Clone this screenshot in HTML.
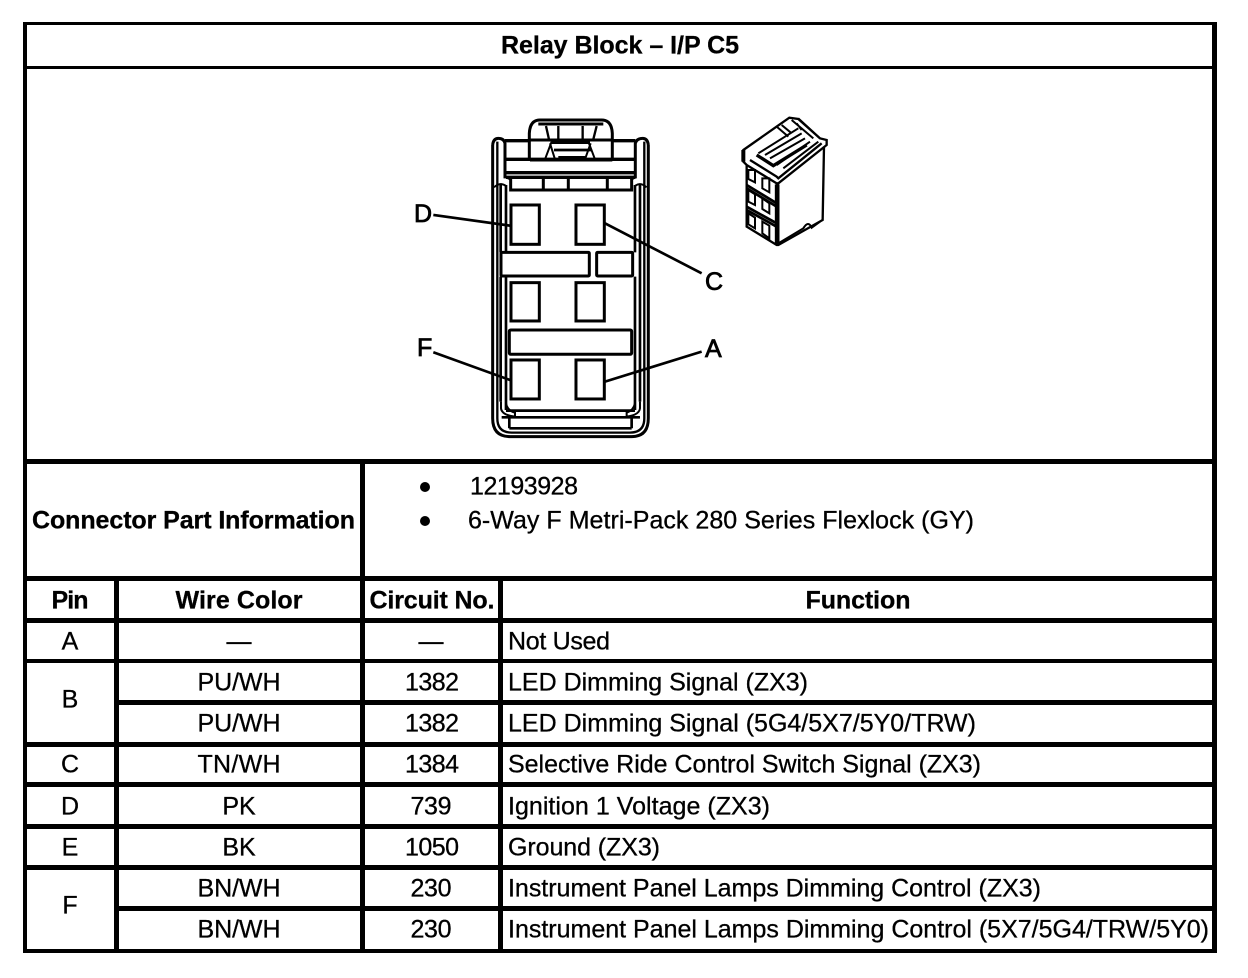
<!DOCTYPE html>
<html><head><meta charset="utf-8"><style>
html,body{margin:0;padding:0;background:#fff}
svg{display:block}
text{font-family:"Liberation Sans",sans-serif;font-size:25px;fill:#000;stroke:#000;stroke-width:.3px}
.b{font-weight:bold}
.m{text-anchor:middle}
</style></head><body>
<svg width="1248" height="978" viewBox="0 0 1248 978" xmlns="http://www.w3.org/2000/svg">
<rect width="1248" height="978" fill="#fff"/>
<g fill="#000" shape-rendering="crispEdges">
<rect x="23" y="22" width="1194" height="3"/>
<rect x="23" y="22" width="4" height="931"/>
<rect x="1212" y="22" width="5" height="931"/>
<rect x="23" y="949" width="1194" height="4"/>
<rect x="23" y="66" width="1194" height="3"/>
<rect x="23" y="459" width="1194" height="5"/>
<rect x="23" y="576" width="1194" height="5"/>
<rect x="23" y="618" width="1194" height="5"/>
<rect x="23" y="659" width="1194" height="4"/>
<rect x="119" y="700" width="1098" height="5"/>
<rect x="23" y="742" width="1194" height="5"/>
<rect x="23" y="782" width="1194" height="5"/>
<rect x="23" y="824" width="1194" height="5"/>
<rect x="23" y="865" width="1194" height="5"/>
<rect x="119" y="906" width="1098" height="5"/>
<rect x="114" y="576" width="5" height="377"/>
<rect x="360" y="459" width="5" height="494"/>
<rect x="498" y="576" width="5" height="377"/>
</g>

<g transform="translate(400,100) scale(0.3333)" fill="none" stroke="#000" stroke-width="9">
<path d="M278,135 Q280,115 295,115 Q312,115 315,130 L315,235"/>
<path d="M745,135 Q743,115 728,115 Q710,115 706,130 L706,235"/>
<path d="M278,135 V955 Q278,1010 330,1010 H695 Q745,1010 745,955 V135"/>
<path d="M292,125 V955 Q292,998 335,998 H690 Q733,998 733,955 V125" stroke-width="7"/>
<path d="M302,250 V457 M302,530 V905 M318,255 V457 M318,530 V930" stroke-width="8"/>
<path d="M720,250 V905 M705,255 V457 M705,530 V930" stroke-width="8"/>
<path d="M282,262 Q300,245 318,258 M740,262 Q722,245 705,258" stroke-width="6"/>
<path d="M315,122 H388 M637,122 H706 M318,178 H706 M318,218 H706 M318,232 H706" stroke-width="10"/>
<path d="M318,232 L335,240 M706,232 L692,240" stroke-width="6"/>
<path d="M332,235 V270 H695 V235 M430,235 V268 M505,235 V268 M622,235 V268"/>
<path d="M388,178 V100 Q390,60 420,60 H605 Q635,60 637,100 V178" />
<path d="M390,120 H637 M415,72 H610 M390,180 H637" stroke-width="9"/>
<path d="M438,78 L447,118 M475,78 V118 M548,78 V118 M590,78 L580,118" stroke-width="7"/>
<path d="M455,128 H570 M462,150 H575 M475,172 H555" stroke-width="8"/>
<path d="M435,178 L455,125 M465,178 L450,130 M585,178 L565,125 M555,178 L572,130" stroke-width="6"/>
<g stroke-width="9" fill="#fff">
<rect x="303" y="457" width="265" height="71" rx="3"/>
<rect x="590" y="457" width="108" height="71" rx="3"/>
<rect x="328" y="690" width="367" height="73" rx="4"/>
<rect x="333" y="315" width="85" height="118"/>
<rect x="528" y="315" width="85" height="118"/>
<rect x="333" y="548" width="85" height="115"/>
<rect x="528" y="548" width="85" height="115"/>
<rect x="333" y="780" width="85" height="117"/>
<rect x="528" y="780" width="85" height="117"/>
</g>
<path d="M318,932 H705 M305,952 H720 M328,985 H695 M328,955 V985 M695,955 V985" stroke-width="8"/>
<path d="M303,905 V925 Q305,945 345,950 M318,910 Q322,932 345,938 V950 M720,905 V925 Q718,945 680,950 M705,910 Q700,932 680,938 V950" stroke-width="6"/>
<path d="M100,345 L330,377 M615,370 L905,520 M100,757 L330,840 M615,845 L905,755" stroke-width="8"/>
</g>
<g style="stroke-width:.8px">
<text x="414" y="222" style="stroke-width:.8px">D</text>
<text x="705" y="290" style="stroke-width:.8px">C</text>
<text x="417" y="356" style="stroke-width:.8px">F</text>
<text x="705" y="357" style="stroke-width:.8px">A</text>
</g>

<g transform="translate(730,105) scale(0.3333)" fill="none" stroke="#000" stroke-width="7">
<path d="M40,135 L178,38 L205,42 L270,100 L290,105 V120 L145,235 L140,235 L50,180 L40,170 Z" />
<path d="M40,135 V170" stroke-width="12"/>
<path d="M50,180 V365 L140,420 L145,420 L278,345 L282,125"/>
<path d="M145,238 V420 M138,238 V420"/>
<path d="M60,165 L140,215 L145,220 L275,115"/>
<path d="M85,145 L205,70 M105,150 L215,85 M120,160 L225,100 M140,180 L240,110 M160,190 L265,110 M205,40 L270,100 M185,45 L250,100 M140,65 L175,95 M155,60 L185,85 M200,55 L215,75" stroke-width="6"/>
<path d="M80,150 L130,182 L230,120" stroke-width="10"/>
<path d="M50,240 L140,295 M50,250 L140,305 M50,305 L140,355 M50,315 L140,365" stroke-width="8"/>
<path d="M55,195 H75 V232 L55,222 Z M97,220 H118 V262 L97,250 Z M55,255 L75,268 V300 L55,290 Z M97,280 L118,295 V325 L97,312 Z M55,325 L75,338 V370 L55,358 Z M97,350 L118,362 V400 L97,385 Z" stroke-width="6"/>
<path d="M145,415 L220,370 Q235,345 245,368 L270,350" stroke-width="6"/>
</g>

<g transform="translate(0,-0.6)">
<text x="620" y="54" class="b m" textLength="238">Relay Block – I/P C5</text>
<text x="32" y="529" class="b" textLength="323">Connector Part Information</text>
<text x="470" y="495" textLength="108">12193928</text>
<text x="468" y="529" textLength="506">6-Way F Metri-Pack 280 Series Flexlock (GY)</text>

<text x="70" y="609" class="b m" textLength="37">Pin</text>
<text x="239" y="609" class="b m" textLength="127">Wire Color</text>
<text x="432" y="609" class="b m" textLength="125">Circuit No.</text>
<text x="858" y="609" class="b m" textLength="105">Function</text>

<text x="70" y="650" class="m">A</text>
<text x="70" y="708" class="m">B</text>
<text x="70" y="773" class="m">C</text>
<text x="70" y="815" class="m">D</text>
<text x="70" y="856" class="m">E</text>
<text x="70" y="914" class="m">F</text>

<text x="239" y="650" class="m">—</text>
<text x="239" y="691" class="m" textLength="83">PU/WH</text>
<text x="239" y="732" class="m" textLength="83">PU/WH</text>
<text x="239" y="773" class="m" textLength="83">TN/WH</text>
<text x="239" y="815" class="m">PK</text>
<text x="239" y="856" class="m">BK</text>
<text x="239" y="897" class="m" textLength="83">BN/WH</text>
<text x="239" y="938" class="m" textLength="83">BN/WH</text>

<text x="431" y="650" class="m">—</text>
<text x="432" y="691" class="m" textLength="54">1382</text>
<text x="432" y="732" class="m" textLength="54">1382</text>
<text x="432" y="773" class="m" textLength="54">1384</text>
<text x="431" y="815" class="m" textLength="41">739</text>
<text x="432" y="856" class="m" textLength="54">1050</text>
<text x="431" y="897" class="m" textLength="41">230</text>
<text x="431" y="938" class="m" textLength="41">230</text>

<text x="508" y="650" textLength="102">Not Used</text>
<text x="508" y="691" textLength="300">LED Dimming Signal (ZX3)</text>
<text x="508" y="732" textLength="468">LED Dimming Signal (5G4/5X7/5Y0/TRW)</text>
<text x="508" y="773" textLength="473">Selective Ride Control Switch Signal (ZX3)</text>
<text x="508" y="815" textLength="262">Ignition 1 Voltage (ZX3)</text>
<text x="508" y="856" textLength="152">Ground (ZX3)</text>
<text x="508" y="897" textLength="533">Instrument Panel Lamps Dimming Control (ZX3)</text>
<text x="508" y="938" textLength="701">Instrument Panel Lamps Dimming Control (5X7/5G4/TRW/5Y0)</text>
</g>
<circle cx="425" cy="487" r="5" fill="#000"/>
<circle cx="425" cy="521" r="5" fill="#000"/>
</svg>
</body></html>
